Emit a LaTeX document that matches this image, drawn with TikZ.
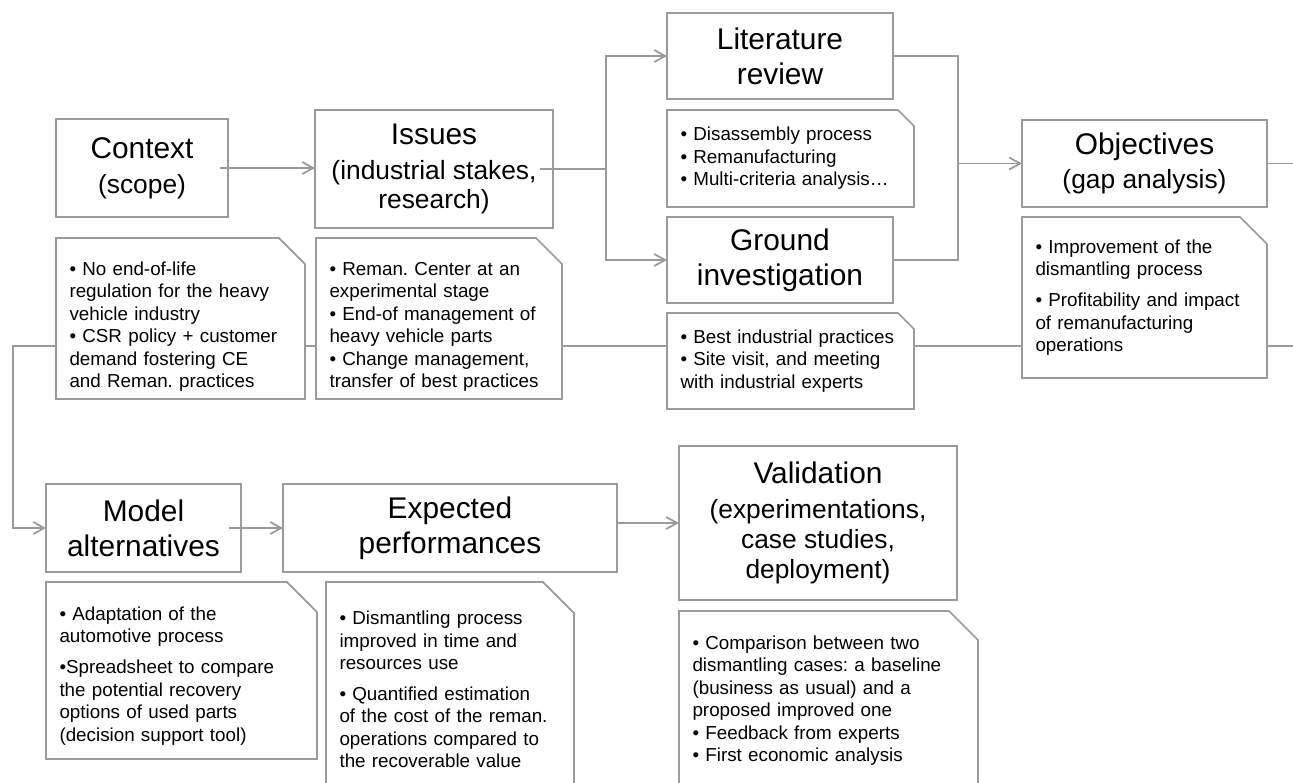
\documentclass[tikz,border=0pt]{standalone}
\usepackage{fontspec}
\setmainfont{Liberation Sans}
\usetikzlibrary{positioning,arrows.meta}
\definecolor{edgegray}{RGB}{155,155,155}
\frenchspacing
\newcommand{\stagefont}{\fontsize{17}{19.8}\selectfont}
\newcommand{\subfont}{\fontsize{15}{17}\selectfont}
\newcommand{\notefont}{\fontsize{10.7}{12.8}\selectfont}
% outline of a note, top right corner cut off
\newcommand{\snip}[2]{%
  \draw[link] (#1.north west) -- ([xshift=-#2]#1.north east)
    -- ([yshift=-#2]#1.north east) -- (#1.south east) -- (#1.south west) -- cycle;}

\begin{document}
\begin{tikzpicture}[x=0.02cm,y=-0.02cm,
  >={Straight Barb[length=0.22cm,width=0.24cm]},
  link/.style={draw=edgegray,line width=1pt},
  flow/.style={link,->},
  stage/.style={draw=edgegray,line width=1pt,fill=white,inner sep=0pt,outer sep=0pt,align=center,font=\stagefont},
  note/.style={fill=white,inner xsep=0.27cm,inner ysep=0pt,outer sep=0pt,align=left,font=\notefont}]
   \useasboundingbox (0,0) rectangle (1293,782);
   \clip (0,0) rectangle (1293,782);

   % main steps
   \node[stage,minimum width=3.44cm,minimum height=1.96cm] (ctx) at (142,168) {Context\\{\subfont (scope)}};
   \node[stage,minimum width=4.76cm,minimum height=2.36cm] (iss) at (434,169) {Issues\\{\subfont (industrial stakes,}\\[-2.8pt]{\subfont research)}};
   \node[stage,minimum width=4.52cm,minimum height=1.72cm] (lit) at (780,56) {Literature\\review};
   \node[stage,minimum width=4.52cm,minimum height=1.72cm] (gnd) at (780,260) {Ground\\investigation};
   \node[stage,minimum width=4.9cm,minimum height=1.74cm] (obj) at (1144.5,163.5) {Objectives\\{\subfont (gap analysis)}};
   \node[stage,minimum width=3.9cm,minimum height=1.76cm] (mod) at (143.5,528) {Model\\alternatives};
   \node[stage,minimum width=6.68cm,minimum height=1.76cm] (exp) at (450,528) {Expected\\performances};
   \node[stage,minimum width=5.56cm,minimum height=3.08cm] (val) at (818,523) {Validation\\{\subfont (experimentations,}\\[-2.8pt]{\subfont case studies,}\\[-2.8pt]{\subfont deployment)}};

   \coordinate (fork) at ([xshift=1.06cm]iss.east);
   \coordinate (merge) at ([xshift=-1.28cm]obj.west);
   \coordinate (rimT) at (1293,163.5);
   \coordinate (rimB) at (1293,346);
   \coordinate (rimL) at (13,346);

   % connectors
   \draw[flow,shorten <=-0.16cm] (ctx.east) -- (ctx.east -| iss.west);
   \draw[link,shorten <=-0.26cm] (iss.east) -- (fork);
   \draw[flow] (fork) |- (lit.west);
   \draw[flow] (fork) |- (gnd.west);
   \draw[link] (lit.east) -| (merge);
   \draw[link] (gnd.east) -| (merge);
   \draw[flow] (merge) -- (obj.west);
   \draw[link] (obj.east) -- (rimT);
   \draw[flow] (rimB) -- (rimL) |- (mod.west);
   \draw[flow,shorten <=-0.24cm] (mod.east) -- (exp.west);
   \draw[flow] (exp.east |- val.west) -- (val.west);

   % notes
   \node[note,below right=0.42cm and 0cm of ctx.south west,minimum width=4.98cm,minimum height=3.22cm,text width=4.44cm] (nctx)
     {\rule{0pt}{0.59cm}• No end-of-life\\regulation for the heavy\\vehicle industry\\• CSR policy + customer\\demand fostering CE\\and Reman. practices};
   \snip{nctx}{0.52cm}
   \node[note,below right=0.2cm and 0.02cm of iss.south west,minimum width=4.92cm,minimum height=3.22cm,text width=4.38cm] (niss)
     {\rule{0pt}{0.59cm}• Reman. Center at an\\experimental stage\\• End-of management of\\heavy vehicle parts\\• Change management,\\transfer of best practices};
   \snip{niss}{0.52cm}
   \node[note,below right=0.22cm and 0cm of lit.south west,minimum width=4.94cm,minimum height=1.94cm,text width=4.4cm] (nlit)
     {• Disassembly process\\• Remanufacturing\\• Multi-criteria analysis…};
   \snip{nlit}{0.32cm}
   \node[note,below right=0.2cm and 0cm of gnd.south west,minimum width=4.94cm,minimum height=1.92cm,text width=4.4cm] (ngnd)
     {• Best industrial practices\\• Site visit, and meeting\\with industrial experts};
   \snip{ngnd}{0.32cm}
   \node[note,below right=0.2cm and 0cm of obj.south west,minimum width=4.9cm,minimum height=3.22cm,text width=4.36cm] (nobj)
     {• Improvement of the\\dismantling process\\[4.8pt]• Profitability and impact\\of remanufacturing\\operations};
   \snip{nobj}{0.54cm}
   \node[note,below right=0.2cm and 0cm of mod.south west,minimum width=5.42cm,minimum height=3.54cm,text width=4.88cm] (nmod)
     {\rule{0pt}{0.49cm}• Adaptation of the\\automotive process\\[4.8pt]•Spreadsheet to compare\\the potential recovery\\options of used parts\\(decision support tool)};
   \snip{nmod}{0.6cm}
   \node[note,below right=0.2cm and 0.86cm of exp.south west,minimum width=4.96cm,minimum height=4.3cm,text width=4.42cm] (nexp)
     {• Dismantling process\\improved in time and\\resources use\\[4.8pt]• Quantified estimation\\of the cost of the reman.\\operations compared to\\the recoverable value};
   \snip{nexp}{0.62cm}
   \node[note,below right=0.22cm and 0cm of val.south west,minimum width=5.98cm,minimum height=3.58cm,text width=5.44cm] (nval)
     {• Comparison between two\\dismantling cases: a baseline\\(business as usual) and a\\proposed improved one\\• Feedback from experts\\• First economic analysis};
   \snip{nval}{0.58cm}
\end{tikzpicture}
\end{document}
